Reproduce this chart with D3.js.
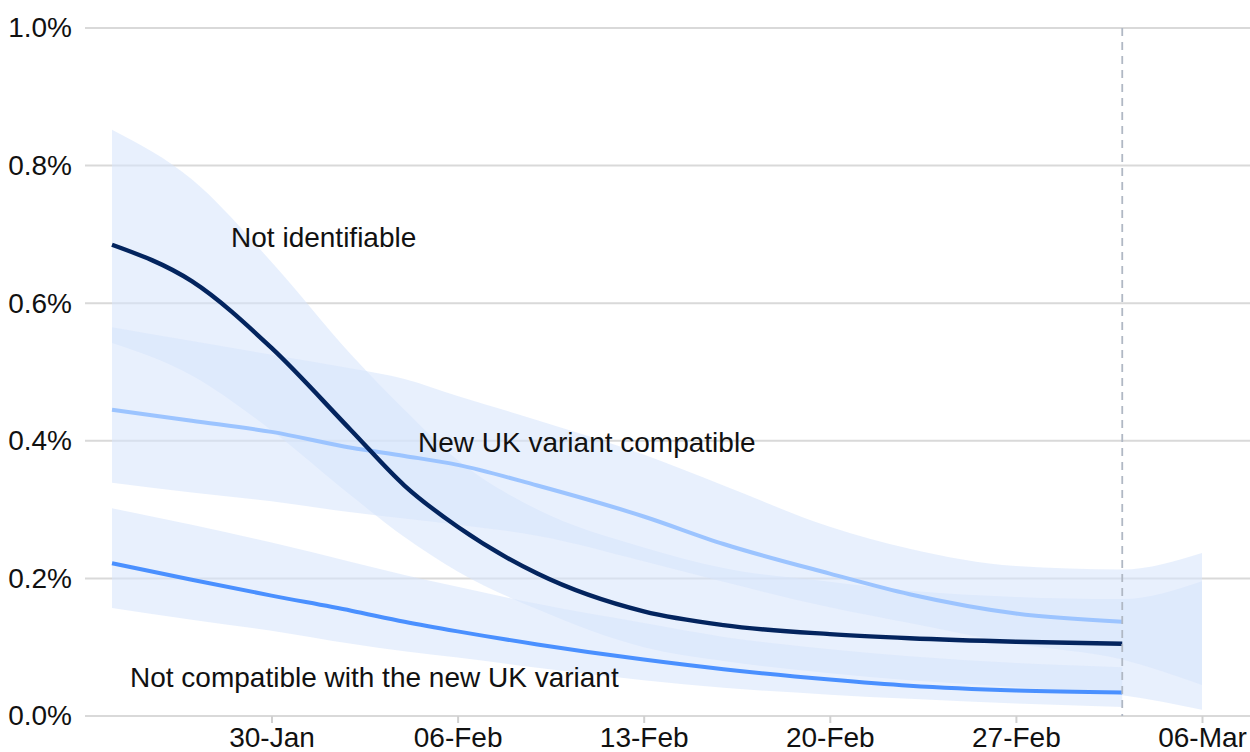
<!DOCTYPE html>
<html>
<head>
<meta charset="utf-8">
<script src="https://cdn.jsdelivr.net/npm/d3@7"></script>
<style>
  html, body { margin: 0; padding: 0; background: #fff; }
  svg { display: block; font-family: "Liberation Sans", Arial, sans-serif; }
</style>
</head>
<body>
<svg id="chart" width="1250" height="752"></svg>
<script>
// Modelled daily positivity by variant group, 24 Jan – 03 Mar 2021 (% of population)
const lineDates = ["2021-01-24","2021-01-27","2021-01-30","2021-02-02","2021-02-04","2021-02-06",
                   "2021-02-09","2021-02-13","2021-02-16","2021-02-20","2021-02-23","2021-02-27","2021-03-03"];
const notIdentifiable = [0.685,0.632,0.535,0.415,0.335,0.275,0.207,0.152,0.132,0.119,0.113,0.108,0.105];
const ukVariant       = [0.445,0.429,0.413,0.390,0.378,0.365,0.335,0.290,0.250,0.207,0.177,0.149,0.137];
const notCompatible   = [0.222,0.198,0.175,0.153,0.137,0.123,0.104,0.082,0.068,0.053,0.044,0.037,0.034];

// 95% credible intervals (the two wider intervals run on to 06 Mar)
const bandDates = [...lineDates, "2021-03-06"];
const notIdentifiableUpper = [0.852,0.780,0.660,0.525,0.445,0.372,0.300,0.245,0.215,0.195,0.182,0.173,0.170,0.196];
const notIdentifiableLower = [0.542,0.495,0.415,0.320,0.260,0.210,0.155,0.100,0.080,0.062,0.052,0.042,0.030,0.009];
const ukVariantUpper       = [0.565,0.545,0.525,0.505,0.490,0.465,0.430,0.380,0.335,0.275,0.243,0.218,0.213,0.237];
const ukVariantLower       = [0.339,0.325,0.312,0.296,0.287,0.278,0.262,0.225,0.195,0.158,0.135,0.105,0.082,0.045];
const notCompatibleUpper   = [0.302,0.278,0.252,0.224,0.205,0.188,0.163,0.135,0.115,0.097,0.087,0.077,0.071,null];
const notCompatibleLower   = [0.157,0.140,0.124,0.105,0.094,0.085,0.070,0.052,0.041,0.031,0.025,0.018,0.013,null];

const yTicks = [0, 0.2, 0.4, 0.6, 0.8, 1.0];
const xTicks = ["2021-01-30","2021-02-06","2021-02-13","2021-02-20","2021-02-27","2021-03-06"];
const latestDate = "2021-03-03";

// series labels, anchored at the start of the text baseline
const labels = [
  { text: "Not identifiable", at: "2021-01-28T11:30:00Z", value: 0.682 },
  { text: "New UK variant compatible", at: "2021-02-04T12:15:00Z", value: 0.384 },
  { text: "Not compatible with the new UK variant", at: "2021-01-24T16:15:00Z", value: 0.042 }
];

const parse = d3.utcParse("%Y-%m-%d");
const svg = d3.select("#chart");
const plotLeft = 85, plotRight = 1250, plotTop = 28, plotBottom = 716;

const x = d3.scaleUtc()
  .domain([parse("2021-01-24"), parse("2021-03-06")])
  .range([112, 1202]);
const y = d3.scaleLinear().domain([0, 1.0]).range([plotBottom, plotTop]);

// gridlines
svg.append("g").selectAll("line").data(yTicks).join("line")
  .attr("x1", plotLeft).attr("x2", plotRight)
  .attr("y1", d => y(d)).attr("y2", d => y(d))
  .attr("stroke", "#d9d9d9").attr("stroke-width", 2);

// y axis labels
const yAxis = svg.append("g").attr("transform", `translate(${plotLeft},0)`)
  .call(d3.axisLeft(y).tickValues(yTicks).tickFormat(d => d.toFixed(1) + "%").tickSize(0).tickPadding(13));
yAxis.select(".domain").remove();
yAxis.selectAll("text").attr("font-size", 28).attr("fill", "#111").attr("font-family", "Liberation Sans, Arial, sans-serif");

// x axis
const xAxis = svg.append("g").attr("transform", `translate(0,${plotBottom})`)
  .call(d3.axisBottom(x).tickValues(xTicks.map(parse)).tickFormat(d3.utcFormat("%d-%b")).tickSize(7).tickPadding(4));
xAxis.select(".domain").remove();
xAxis.selectAll("line").attr("stroke", "#d0d0d0").attr("stroke-width", 2);
xAxis.selectAll("text").attr("font-size", 28).attr("fill", "#111").attr("font-family", "Liberation Sans, Arial, sans-serif");

// credible interval bands
function bandRows(upper, lower) {
  return bandDates.map((d, i) => ({ date: parse(d), hi: upper[i], lo: lower[i] }));
}
const area = d3.area()
  .defined(d => d.hi != null && d.lo != null)
  .x(d => x(d.date)).y0(d => y(d.lo)).y1(d => y(d.hi))
  .curve(d3.curveMonotoneX);
const bands = [
  bandRows(notIdentifiableUpper, notIdentifiableLower),
  bandRows(ukVariantUpper, ukVariantLower),
  bandRows(notCompatibleUpper, notCompatibleLower)
];
svg.append("g").selectAll("path").data(bands).join("path")
  .attr("d", area)
  .attr("fill", "rgb(215,229,251)")
  .attr("fill-opacity", 0.57);

// estimate lines
const line = d3.line().x(d => x(d.date)).y(d => y(d.v)).curve(d3.curveMonotoneX);
const series = [
  { values: notCompatible, color: "#4a90ff", width: 4 },
  { values: ukVariant, color: "#9cc4ff", width: 4 },
  { values: notIdentifiable, color: "#03245e", width: 4.4 }
];
svg.append("g").selectAll("path").data(series).join("path")
  .attr("d", s => line(lineDates.map((d, i) => ({ date: parse(d), v: s.values[i] }))))
  .attr("fill", "none")
  .attr("stroke", s => s.color)
  .attr("stroke-width", s => s.width)
  .attr("stroke-linejoin", "round");

// latest-date marker
svg.append("line")
  .attr("x1", x(parse(latestDate))).attr("x2", x(parse(latestDate)))
  .attr("y1", plotTop).attr("y2", plotBottom)
  .attr("stroke", "#b0b8c4").attr("stroke-width", 1.8)
  .attr("stroke-dasharray", "8,6");

// series labels
svg.append("g").selectAll("text").data(labels).join("text")
  .attr("x", d => x(d3.isoParse(d.at)))
  .attr("y", d => y(d.value))
  .attr("font-size", 28)
  .attr("fill", "#111")
  .text(d => d.text);
</script>
</body>
</html>
